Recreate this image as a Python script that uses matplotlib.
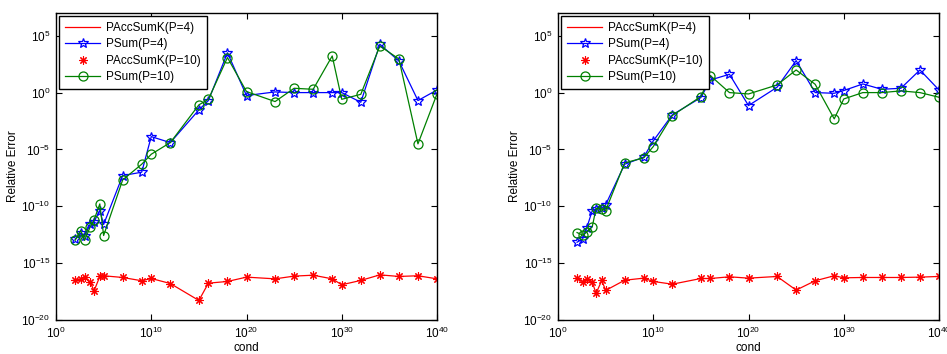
import numpy as np
import matplotlib
matplotlib.use("Agg")
import matplotlib.pyplot as plt
from matplotlib.ticker import FixedLocator, NullLocator, LogFormatterSciNotation

plt.rcParams['font.family'] = ['Liberation Sans', 'DejaVu Sans']
plt.rcParams['mathtext.default'] = 'regular'

# log10 of cond values
cond_exp = [2, 2.6, 3, 3.6, 4, 4.6, 5, 7, 9, 10, 12, 15, 16, 18, 20, 23, 25, 27, 29, 30, 32, 34, 36, 38, 40]

# log10 of relative errors, left panel
left_paccsumk_p4 = [-16.52, -16.41, -16.26, -16.7, -17.43, -16.17, -16.11, -16.26, -16.55, -16.35, -16.79, -18.28, -16.76,
                    -16.61, -16.23, -16.38, -16.14, -16.06, -16.38, -16.9, -16.52, -16.03, -16.17, -16.11, -16.38]
left_paccsumk_p10 = [-16.52, -16.41, -16.26, -16.7, -17.43, -16.17, -16.11, -16.26, -16.55, -16.35, -16.79, -18.28, -16.76,
                     -16.61, -16.23, -16.38, -16.14, -16.06, -16.38, -16.9, -16.52, -16.03, -16.17, -16.11, -16.38]
left_psum_p4 = [-12.89, -12.36, -12.6, -11.54, -11.34, -10.37, -11.6, -7.3, -7.0, -3.87, -4.4, -1.52, -0.7,
                3.5, -0.26, 0.06, 0.0, 0.0, 0.0, 0.0, -0.85, 4.25, 2.78, -0.7, 0.23]
left_psum_p10 = [-13.0, -12.13, -13.0, -11.78, -11.19, -9.79, -12.57, -7.68, -6.3, -5.42, -4.4, -1.08, -0.59,
                 3.08, 0.09, -0.79, 0.38, 0.29, 3.22, -0.59, -0.15, 4.1, 2.96, -4.51, -0.12]

# right panel
right_paccsumk_p4 = [-16.32, -16.64, -16.41, -16.7, -17.64, -16.52, -17.4, -16.5, -16.32, -16.61, -16.85, -16.35, -16.35,
                     -16.2, -16.32, -16.17, -17.37, -16.55, -16.11, -16.29, -16.26, -16.26, -16.26, -16.23, -16.17]
right_paccsumk_p10 = [-16.32, -16.64, -16.41, -16.7, -17.64, -16.52, -17.4, -16.5, -16.32, -16.61, -16.85, -16.35, -16.35,
                      -16.2, -16.32, -16.17, -17.37, -16.55, -16.11, -16.29, -16.26, -16.26, -16.26, -16.23, -16.17]
right_psum_p4 = [-13.16, -12.86, -11.95, -10.37, -10.23, -10.17, -9.87, -6.3, -5.68, -4.25, -1.96, -0.44, 1.11,
                 1.61, -1.14, 0.47, 2.81, 0.0, -0.06, 0.18, 0.76, 0.29, 0.38, 1.99, 0.23]
right_psum_p10 = [-12.31, -12.54, -12.28, -11.78, -10.17, -10.25, -10.37, -6.18, -5.74, -4.75, -2.02, -0.35, 1.49,
                  0.0, -0.12, 0.67, 1.99, 0.73, -2.31, -0.56, 0.0, 0.0, 0.15, 0.0, -0.41]

labels = ['PAccSumK(P=4)', 'PSum(P=4)', 'PAccSumK(P=10)', 'PSum(P=10)']
x_ticks = [1e0, 1e10, 1e20, 1e30, 1e40]
y_ticks = [1e-20, 1e-15, 1e-10, 1e-5, 1e0, 1e5]

fig = plt.figure(figsize=(9.47, 3.54), dpi=100)
ax1 = fig.add_axes([56/947, 34/354, 381/947, 307/354])
ax2 = fig.add_axes([558/947, 34/354, 381/947, 307/354])

def p(v):
    return 10.0 ** np.asarray(v)

for ax, r4, r10, b4, g10 in [(ax1, left_paccsumk_p4, left_paccsumk_p10, left_psum_p4, left_psum_p10),
                             (ax2, right_paccsumk_p4, right_paccsumk_p10, right_psum_p4, right_psum_p10)]:
    x = p(cond_exp)
    ax.plot(x, p(r4), '-', color='red', lw=0.9, label=labels[0])
    ax.plot(x, p(b4), '-', color='blue', lw=0.9, marker='*', ms=7, mfc='none', mec='blue', mew=0.9, label=labels[1])
    ax.plot(x, p(r10), linestyle='none', color='red', marker=(8, 2, 0), ms=6, mew=0.8, label=labels[2])
    ax.plot(x, p(g10), '-', color='green', lw=0.9, marker='o', ms=6.5, mfc='none', mec='green', mew=0.9, label=labels[3])
    ax.set_xscale('log')
    ax.set_yscale('log')
    ax.set_xlim(1e0, 1e40)
    ax.set_ylim(1e-20, 1e7)
    ax.xaxis.set_major_locator(FixedLocator(x_ticks))
    ax.yaxis.set_major_locator(FixedLocator(y_ticks))
    ax.xaxis.set_minor_locator(NullLocator())
    ax.yaxis.set_minor_locator(NullLocator())
    ax.xaxis.set_major_formatter(LogFormatterSciNotation())
    ax.yaxis.set_major_formatter(LogFormatterSciNotation())
    ax.tick_params(direction='in', top=True, right=True, length=4, width=0.8, labelsize=8.5, pad=4)
    for s in ax.spines.values():
        s.set_linewidth(1.0)
    ax.set_xlabel('cond', fontsize=8.5, labelpad=1)
    ax.set_ylabel('Relative Error', fontsize=8.5, labelpad=2)
    leg = ax.legend(loc='upper left', fontsize=8.5, frameon=True, fancybox=False, edgecolor='black',
                    framealpha=1, handlelength=3.0, borderpad=0.5, labelspacing=0.38,
                    borderaxespad=0.25, handletextpad=0.5)
    leg.get_frame().set_linewidth(1.0)

fig.savefig('out.png', dpi=100)
